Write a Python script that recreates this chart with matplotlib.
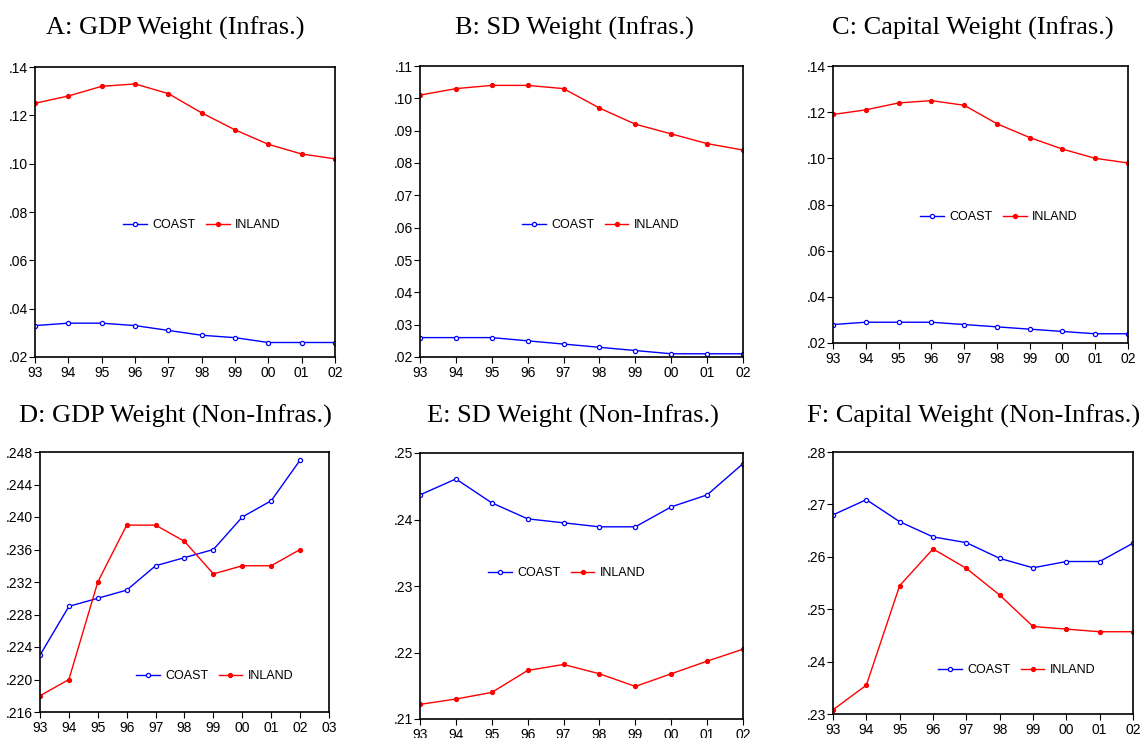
import matplotlib
matplotlib.use("Agg")
import matplotlib.pyplot as plt
from matplotlib import font_manager
from matplotlib.ticker import FixedLocator, FuncFormatter

W, H = 1144, 738

YEARS = ["93", "94", "95", "96", "97", "98", "99", "00", "01", "02"]

A_COAST = [.033, .034, .034, .033, .031, .029, .028, .026, .026, .026]
A_INLAND = [.125, .128, .132, .133, .129, .121, .114, .108, .104, .102]

B_COAST = [.026, .026, .026, .025, .024, .023, .022, .021, .021, .021]
B_INLAND = [.101, .103, .104, .104, .103, .097, .092, .089, .086, .084]

C_COAST = [.028, .029, .029, .029, .028, .027, .026, .025, .024, .024]
C_INLAND = [.119, .121, .124, .125, .123, .115, .109, .104, .100, .098]

D_COAST = [.223, .229, .230, .231, .234, .235, .236, .240, .242, .247]
D_INLAND = [.218, .220, .232, .239, .239, .237, .233, .234, .234, .236]

E_COAST = [.2437, .2461, .2425, .2401, .2395, .2389, .2389, .2419, .2437, .2484]
E_INLAND = [.2122, .2130, .2140, .2173, .2182, .2168, .2149, .2168, .2187, .2205]

F_COAST = [.2680, .2709, .2667, .2638, .2627, .2597, .2579, .2591, .2591, .2626]
F_INLAND = [.2308, .2355, .2545, .2615, .2578, .2527, .2467, .2462, .2457, .2457]

names = {f.name for f in font_manager.fontManager.ttflist}
SANS = "Liberation Sans Narrow" if "Liberation Sans Narrow" in names else "Liberation Sans"
SERIF = "Liberation Serif"

plt.rcParams["font.family"] = [SANS, "DejaVu Sans"]

# panel: title, coast, inland, ymin, ymax, ystep, decimals, n_xticks,
#        axes box in pixels (left, top, right, bottom), title centre, legend centre (axes frac)
PANELS = [
    ("A: GDP Weight (Infras.)", A_COAST, A_INLAND, .02, .14, .02, 2, 10,
     (35, 67, 335, 357), (175, 28), (0.557, 0.455)),
    ("B: SD Weight (Infras.)", B_COAST, B_INLAND, .02, .11, .01, 2, 10,
     (420, 66, 743, 357), (574, 28), (0.56, 0.454)),
    ("C: Capital Weight (Infras.)", C_COAST, C_INLAND, .02, .14, .02, 2, 10,
     (833, 66, 1128, 343), (973, 28), (0.563, 0.455)),
    ("D: GDP Weight (Non-Infras.)", D_COAST, D_INLAND, .216, .248, .004, 3, 11,
     (40, 452, 329, 712), (175, 416), (0.605, 0.138)),
    ("E: SD Weight (Non-Infras.)", E_COAST, E_INLAND, .21, .25, .01, 2, 10,
     (420, 453, 743, 719), (573, 416), (0.455, 0.549)),
    ("F: Capital Weight (Non-Infras.)", F_COAST, F_INLAND, .23, .28, .01, 2, 10,
     (833, 452, 1133, 714), (974, 416), (0.613, 0.168)),
]


def dot_fmt(decimals):
    def f(v, pos):
        s = f"{v:.{decimals}f}"
        return s[1:] if s.startswith("0") else s
    return FuncFormatter(f)


fig = plt.figure(figsize=(W / 100, H / 100), dpi=100)

for title, coast, inland, y0, y1, ystep, dec, nx, box, tpos, lpos in PANELS:
    l, t, r, b = box
    ax = fig.add_axes([l / W, 1 - b / H, (r - l) / W, (b - t) / H])
    x = list(range(len(coast)))
    ax.plot(x, coast, color="#0000ff", lw=1.0, marker="o", ms=3.0,
            mfc="white", mec="#0000ff", mew=0.9, label="COAST")
    ax.plot(x, inland, color="#ff0000", lw=1.0, marker="o", ms=2.8,
            mfc="#ff0000", mec="#ff0000", label="INLAND")
    ax.set_xlim(0, nx - 1)
    ax.set_ylim(y0, y1)
    nt = int(round((y1 - y0) / ystep)) + 1
    ax.yaxis.set_major_locator(FixedLocator([y0 + i * ystep for i in range(nt)]))
    ax.yaxis.set_major_formatter(dot_fmt(dec))
    labels = (YEARS + ["03"])[:nx]
    ax.set_xticks(range(nx))
    ax.set_xticklabels(labels)
    ax.tick_params(direction="out", length=4, width=0.8, labelsize=10,
                   top=False, right=False)
    ax.tick_params(axis="x", pad=2.5)
    ax.tick_params(axis="y", pad=1)
    for s in ax.spines.values():
        s.set_linewidth(1.2)
    ax.legend(loc="center", bbox_to_anchor=lpos, ncol=2, frameon=False,
              fontsize=9, handlelength=1.9, handletextpad=0.45,
              columnspacing=0.8, borderpad=0)
    fig.text(tpos[0] / W, 1 - tpos[1] / H, title, ha="center", va="center",
             family=SERIF, fontsize=19)

fig.savefig("out.png", dpi=100)
